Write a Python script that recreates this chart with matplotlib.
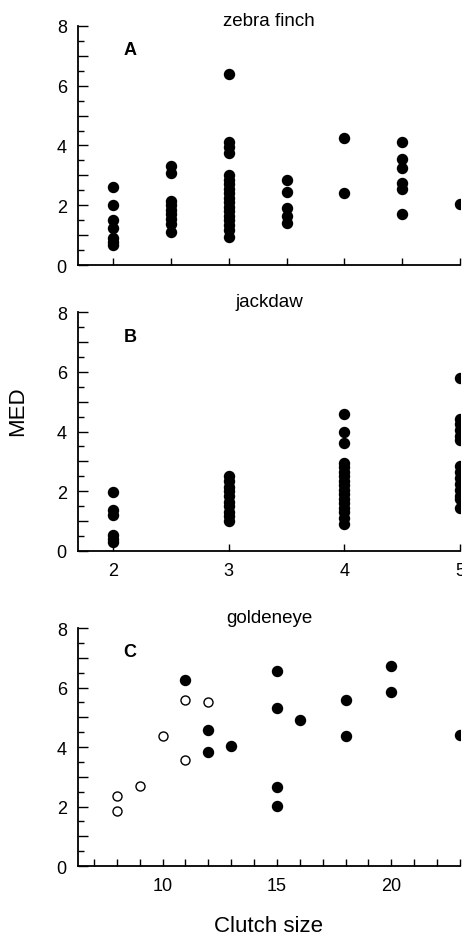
import matplotlib.pyplot as plt
import numpy as np
from matplotlib.ticker import MultipleLocator, NullFormatter

plt.rcParams['font.family'] = ['Liberation Sans', 'DejaVu Sans']

# zebra finch: clutch size -> MED values
zf_clutch = [2, 3, 4, 5, 6, 7, 8]
zf_med = [
    [2.62, 2.01, 1.52, 1.25, 0.90, 0.78, 0.68],
    [3.33, 3.08, 2.15, 2.02, 1.85, 1.70, 1.55, 1.38, 1.12],
    [6.39, 4.11, 3.94, 3.75, 3.00, 2.85, 2.70, 2.55, 2.40, 2.25, 2.10,
     1.95, 1.80, 1.65, 1.50, 1.35, 1.18, 0.93],
    [2.86, 2.45, 1.91, 1.63, 1.40],
    [4.24, 2.41],
    [4.13, 3.55, 3.25, 2.74, 2.55, 1.71],
    [2.04],
]

# jackdaw
jd_clutch = [2, 3, 4, 5]
jd_med = [
    [1.96, 1.35, 1.20, 0.52, 0.40, 0.30],
    [2.52, 2.35, 2.15, 2.00, 1.85, 1.65, 1.50, 1.30, 1.15, 1.00],
    [4.58, 3.98, 3.60, 2.95, 2.80, 2.65, 2.50, 2.35, 2.20, 2.05, 1.90,
     1.75, 1.60, 1.45, 1.30, 1.10, 0.88],
    [5.78, 4.42, 4.25, 4.05, 3.85, 3.70, 2.85, 2.65, 2.45, 2.25, 2.05,
     1.85, 1.75, 1.43],
]

# goldeneye: open and filled symbols
ge_open_x = [8, 8, 9, 10, 11, 11, 12]
ge_open_y = [2.35, 1.85, 2.69, 4.37, 5.59, 3.56, 5.50]
ge_fill_x = [11, 12, 12, 13, 15, 15, 15, 15, 16, 18, 18, 20, 20, 23]
ge_fill_y = [6.25, 4.57, 3.84, 4.02, 6.57, 5.32, 2.67, 2.02, 4.91,
             5.58, 4.37, 6.71, 5.84, 4.41]

y_ticks = [0, 1, 2, 3, 4, 5, 6, 7, 8]
y_labels = ['0', '', '2', '', '4', '', '6', '', '8']


def flatten(clutch, med):
    xs, ys = [], []
    for c, vals in zip(clutch, med):
        xs += [c] * len(vals)
        ys += vals
    return xs, ys


def style(ax):
    ax.spines['top'].set_visible(False)
    ax.spines['right'].set_visible(False)
    ax.spines['left'].set_linewidth(1.3)
    ax.spines['bottom'].set_linewidth(1.3)
    ax.set_ylim(0, 8)
    ax.set_yticks(y_ticks)
    ax.set_yticklabels(y_labels)
    ax.yaxis.set_minor_locator(MultipleLocator(0.5))
    ax.tick_params(which='both', direction='in', width=1, labelsize=13, pad=8)
    ax.tick_params(axis='y', which='major', length=7)
    ax.tick_params(axis='y', which='minor', length=4)
    ax.tick_params(axis='x', which='both', length=5)


fig = plt.figure(figsize=(4.62, 9.37), dpi=100)
axA = fig.add_axes([0.1688, 0.7161, 0.8268, 0.2551])
axB = fig.add_axes([0.1688, 0.4112, 0.8268, 0.2544])
axC = fig.add_axes([0.1688, 0.0747, 0.8268, 0.2540])

x, y = flatten(zf_clutch, zf_med)
axA.plot(x, y, 'o', color='black', ms=7.2)
style(axA)
axA.set_xlim(1.39, 8)
axA.set_xticks(zf_clutch)
axA.xaxis.set_major_formatter(NullFormatter())

x, y = flatten(jd_clutch, jd_med)
axB.plot(x, y, 'o', color='black', ms=7.2)
style(axB)
axB.set_xlim(1.695, 5)
axB.set_xticks(jd_clutch)

axC.plot(ge_open_x, ge_open_y, 'o', mfc='white', mec='black', mew=1.0, ms=6.5)
axC.plot(ge_fill_x, ge_fill_y, 'o', color='black', ms=7.2)
style(axC)
axC.set_xlim(6.3, 23)
axC.xaxis.set_major_locator(MultipleLocator(5))
axC.xaxis.set_minor_locator(MultipleLocator(1))

for ax, title, yb, letter in [(axA, 'zebra finch', 1.004, 'A'),
                              (axB, 'jackdaw', 1.028, 'B'),
                              (axC, 'goldeneye', 1.026, 'C')]:
    ax.text(0.5, yb, title, transform=ax.transAxes, ha='center',
            va='baseline', fontsize=13.5)
    ax.text(0.136, 0.90, letter, transform=ax.transAxes, ha='center',
            va='center', fontsize=13, fontweight='bold')

fig.text(18 / 462, 1 - 411 / 937, 'MED', rotation=90, ha='center',
         va='center', fontsize=16)
fig.text(268 / 462, 1 - 927 / 937, 'Clutch size', ha='center',
         va='center', fontsize=16)

fig.savefig('out.png', dpi=100)
